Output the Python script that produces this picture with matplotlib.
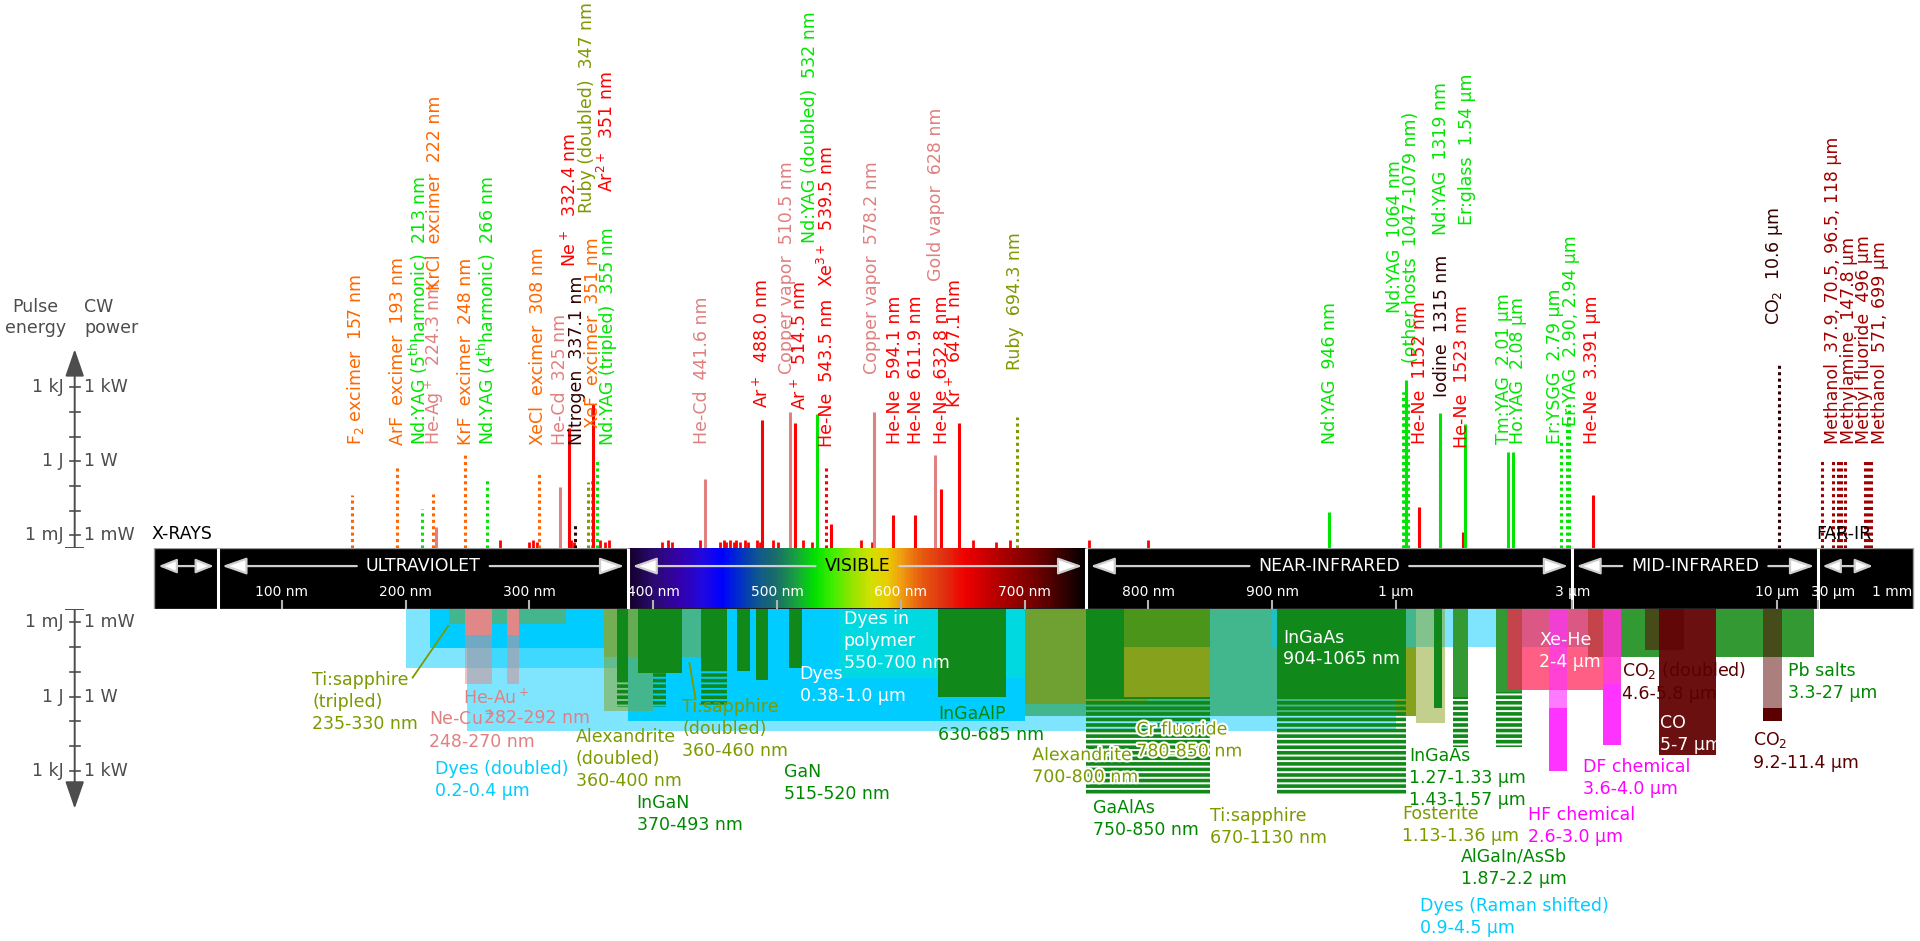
import numpy as np
import matplotlib
matplotlib.use("Agg")
import matplotlib.pyplot as plt
from matplotlib.colors import LinearSegmentedColormap
from matplotlib.lines import Line2D
from matplotlib.patches import FancyArrowPatch
from matplotlib import patheffects as pe

plt.rcParams['font.family'] = ['DejaVu Sans']
plt.rcParams['mathtext.fontset'] = 'dejavusans'
plt.rcParams['hatch.linewidth'] = 2.6

# ======================= DATA =======================
region_names = ["X-RAYS", "ULTRAVIOLET", "VISIBLE", "NEAR-INFRARED", "MID-INFRARED", "FAR-IR"]
region_edges_nm = [1, 10, 380, 750, 3000, 30000, 1e6]

tick_nm = [100, 200, 300, 400, 500, 600, 700, 800, 900, 1000, 3000, 10000, 30000, 1e6]
tick_labels = ["100 nm", "200 nm", "300 nm", "400 nm", "500 nm", "600 nm", "700 nm",
               "800 nm", "900 nm", "1 µm", "3 µm", "10 µm", "30 µm", "1 mm"]

spectrum_nm = [380, 400, 420, 440, 455, 470, 485, 500, 515, 530, 545, 560, 575, 588,
               600, 615, 635, 652, 680, 710, 735, 750]
spectrum_hex = ["#14002a", "#2a0a70", "#3500a8", "#2008e0", "#0000ff", "#0030c8", "#10588a",
                "#1a7068", "#18a040", "#00e000", "#40ee00", "#90e400", "#d0e000", "#e8d000",
                "#f0a010", "#e86010", "#e03010", "#f00000", "#b00000", "#700000", "#2c0000", "#000000"]

power_exp = [-3, 0, 3]
energy_labels = ["1 mJ", "1 J", "1 kJ"]
cw_labels = ["1 mW", "1 W", "1 kW"]

# ---- upper panel: laser lines (wavelength nm, log10 of power/energy in W/J) ----
line_nm = [157, 193, 213, 222, 224.3, 248, 266, 308, 325, 332.4, 337.1, 347, 351, 351.1, 355,
           441.6, 488.0, 510.5, 514.5, 532, 539.5, 543.5, 578.2, 594.1, 611.9, 628, 632.8, 647.1, 694.3,
           946, 1047, 1053, 1064, 1079, 1152, 1315, 1319, 1523, 1540, 2010, 2080, 2790, 2900, 2940, 3391,
           10600, 37900, 70500, 96500, 118000, 147800, 496000, 571000, 699000]
line_log_w = [-1.36, -0.17, -1.91, -1.31, -2.65, 0.32, -0.67, -0.52, -1.02, 1.36, -2.55, -0.82, -0.67, 2.30, 0.07,
              -0.72, 1.66, 2.0, 1.56, 1.91, -0.17, -2.55, 2.0, -2.16, -2.16, 0.27, -1.12, 1.56, 1.81,
              -2.06, 2.8, 2.8, 3.3, 2.5, -1.86, 0.57, 1.96, -2.85, 1.51, 0.37, 0.37, 0.92, 1.5, 2.3, -1.36,
              3.94, 0.02, 0.02, 0.02, 0.02, 0.02, 0.02, 0.02, 0.02]
line_pulsed = [1, 1, 1, 1, 0, 1, 1, 1, 0, 0, 1, 1, 1, 0, 1,
               0, 0, 0, 0, 0, 1, 0, 0, 0, 0, 0, 0, 0, 1,
               0, 1, 1, 0, 1, 0, 1, 0, 0, 0, 0, 0, 1, 1, 1, 0,
               1, 1, 1, 1, 1, 1, 1, 1, 1]
line_kind = ['exc', 'exc', 'ss', 'exc', 'metal', 'exc', 'ss', 'exc', 'metal', 'ion', 'n2', 'ruby', 'exc', 'ion', 'ss',
             'metal', 'ion', 'metal', 'ion', 'ss', 'ion', 'ion', 'metal', 'ion', 'ion', 'metal', 'ion', 'ion', 'ruby',
             'ss', 'ss', 'ss', 'ss', 'ss', 'ion', 'n2', 'ss', 'ion', 'ss', 'ss', 'ss', 'ss', 'ss', 'ss', 'ion',
             'n2', 'fir', 'fir', 'fir', 'fir', 'fir', 'fir', 'fir', 'fir']

# weak ion lines near the band
minor_nm = [276, 300, 303, 306, 334, 336, 357, 361, 364, 407, 412, 415, 438, 454, 457, 459, 462, 465,
            467, 470, 474, 477, 484, 486, 497, 501, 521, 528, 568, 577, 658, 677, 688, 752, 800]
minor_log_w = [-3.2, -3.25, -3.2, -3.25, -3.2, -3.25, -3.2, -3.25, -3.2, -3.25, -3.2, -3.25, -3.2, -3.25,
               -3.2, -3.25, -3.2, -3.25, -3.2, -3.25, -3.2, -3.25, -3.2, -3.25, -3.2, -3.25, -3.2, -3.25,
               -3.2, -3.25, -3.2, -3.25, -3.2, -3.2, -3.2]

label_text = [r"F$_2$ excimer  157 nm", "ArF  excimer  193 nm", r"Nd:YAG (5$^{\mathrm{th}}$harmonic)  213 nm",
              r"He-Ag$^+$  224.3 nm", "KrCl  excimer  222 nm", "KrF  excimer  248 nm",
              r"Nd:YAG (4$^{\mathrm{th}}$harmonic)  266 nm", "XeCl  excimer  308 nm", "He-Cd  325 nm",
              "Nitrogen  337.1 nm", r"Ne$^+$  332.4 nm", "XeF  excimer  351 nm", "Ruby (doubled)  347 nm",
              "Nd:YAG (tripled)  355 nm", r"Ar$^{2+}$  351 nm", "He-Cd  441.6 nm", r"Ar$^+$  488.0 nm",
              "Copper vapor  510.5 nm", r"Ar$^+$  514.5 nm", "Nd:YAG (doubled)  532 nm", r"Xe$^{3+}$  539.5 nm",
              "He-Ne  543.5 nm", "Copper vapor  578.2 nm", "He-Ne  594.1 nm", "He-Ne  611.9 nm",
              "Gold vapor  628 nm", "He-Ne  632.8 nm", r"Kr$^+$  647.1 nm", "Ruby  694.3 nm",
              "Nd:YAG  946 nm", "Nd:YAG  1064 nm\n(other hosts  1047-1079 nm)", "He-Ne  1152 nm",
              "Iodine  1315 nm", "Nd:YAG  1319 nm", "He-Ne  1523 nm", "Er:glass  1.54 µm",
              "Tm:YAG  2.01 µm", "Ho:YAG  2.08 µm", "Er:YSGG  2.79 µm", "Er:YAG  2.90, 2.94 µm",
              "He-Ne  3.391 µm", r"CO$_2$  10.6 µm", "Methanol  37.9, 70.5, 96.5, 118 µm",
              "Methylamine  147.8 µm", "Methyl fluoride  496 µm", "Methanol  571, 699 µm"]
label_kind = ['exc', 'exc', 'ss', 'metal', 'exc', 'exc', 'ss', 'exc', 'metal', 'n2', 'ion', 'exc', 'ruby',
              'ss', 'ion', 'metal', 'ion', 'metal', 'ion', 'ss', 'ion', 'ion', 'metal', 'ion', 'ion',
              'metal', 'ion', 'ion', 'ruby', 'ss', 'ss', 'ion', 'n2', 'ss', 'ion', 'ss', 'ss', 'ss', 'ss',
              'ss', 'ion', 'n2', 'fir', 'fir', 'fir', 'fir']

# ---- lower panel: tuning ranges (nm) and power extent (log10 W) ----
bar_lo = [670, 900, 250, 200, 220, 380, 550, 235, 248, 248, 282, 282, 360, 360,
          371, 371, 388, 400, 439, 439, 468, 483, 510, 630, 700, 750, 750, 780, 780, 904, 904,
          1130, 1270, 1430, 1430, 1870, 1870, 3300, 2000, 2600, 2600, 3600, 3600, 5000, 4600, 9200, 9200]
bar_hi = [1130, 4500, 1000, 400, 360, 700, 700, 330, 270, 270, 292, 292, 460, 400,
          380, 380, 423, 410, 460, 460, 478, 493, 520, 685, 800, 850, 850, 850, 850, 1065, 1065,
          1360, 1330, 1570, 1570, 2200, 2200, 27000, 4000, 2900, 2900, 4000, 4000, 7000, 5800, 11400, 11400]
bar_from = [None, None, None, None, None, None, None, None, None, -2.5, None, -2.5, None, None,
            None, -0.67, None, -0.94, None, -1.02, None, None, None, None, None, None, 0.02, None, -2.0, None, 0.02,
            None, None, None, 0.02, None, -0.17, None, None, None, 0.47, None, -0.5, None, None, None, 0.47]
bar_to = [0.77, -2.0, 1.41, -1.17, -1.96, 0.97, -0.77, -2.95, -2.5, -0.52, -2.5, -0.52, -1.6, 0.57,
          -0.67, 0.42, -0.94, 0.42, -1.02, 0.37, -1.02, -0.67, -1.17, 0.02, 0.32, 0.02, 3.94, -2.0, 0.02, 0.02, 3.94,
          1.07, 0.47, 0.02, 2.06, -0.17, 2.06, -1.61, -0.27, 0.47, 3.0, -0.5, 1.96, 2.35, -1.9, 0.47, 0.97]
bar_kind = ['olive', 'cyan', 'cyan', 'cyan', 'cyan', 'cyan', 'teal', 'olive', 'pink', 'pink', 'pink', 'pink', 'olive', 'olive',
            'green', 'green', 'green', 'green', 'green', 'green', 'green', 'green', 'green', 'green', 'olive2', 'green', 'green',
            'olive', 'olive', 'green', 'green', 'olive', 'green', 'green2', 'green', 'green2', 'green', 'green2', 'xehe',
            'magenta', 'magenta', 'magenta', 'magenta', 'co', 'dkred', 'dkred', 'dkred']
bar_fill = ['solid', 'check', 'check', 'check', 'solid', 'solid', 'check', 'check', 'solid', 'check', 'solid', 'check',
            'check', 'check', 'solid', 'stripe', 'solid', 'stripe', 'solid', 'stripe', 'solid', 'solid', 'solid', 'solid',
            'solid', 'solid', 'stripe', 'check', 'solid', 'solid', 'stripe', 'check', 'solid', 'solid', 'stripe', 'solid',
            'stripe', 'solid', 'check', 'check', 'solid', 'check', 'solid', 'solid', 'check', 'check', 'solid']

low_text = ["Ti:sapphire\n(tripled)\n235-330 nm", "He-Au$^+$", "282-292 nm", "Ne-Cu$^+$\n248-270 nm",
            "Dyes (doubled)\n0.2-0.4 µm", "Alexandrite\n(doubled)\n360-400 nm", "InGaN\n370-493 nm",
            "Ti:sapphire\n(doubled)\n360-460 nm", "GaN\n515-520 nm", "Dyes\n0.38-1.0 µm",
            "Dyes in\npolymer\n550-700 nm", "InGaAlP\n630-685 nm", "Alexandrite\n700-800 nm",
            "Cr fluoride\n780-850 nm", "GaAlAs\n750-850 nm", "Ti:sapphire\n670-1130 nm",
            "InGaAs\n904-1065 nm", "InGaAs\n1.27-1.33 µm\n1.43-1.57 µm", "Fosterite\n1.13-1.36 µm",
            "AlGaIn/AsSb\n1.87-2.2 µm", "Dyes (Raman shifted)\n0.9-4.5 µm", "Xe-He\n2-4 µm",
            "HF chemical\n2.6-3.0 µm", "DF chemical\n3.6-4.0 µm", "CO$_2$ (doubled)\n4.6-5.8 µm",
            "CO\n5-7 µm", "CO$_2$\n9.2-11.4 µm", "Pb salts\n3.3-27 µm"]
low_kind = ['olive', 'pink', 'pink', 'pink', 'cyan', 'olive', 'green', 'olive', 'green', 'white', 'white', 'green',
            'olive', 'olive', 'green', 'olive', 'white', 'green', 'olive', 'green', 'cyan', 'white',
            'magenta', 'magenta', 'dkred', 'white', 'dkred', 'green']

# ======================= STYLE / LAYOUT =======================
LINE_COL = {'exc': '#ff6600', 'ss': '#00e600', 'metal': '#e08080', 'ion': '#ff0000',
            'n2': '#330000', 'ruby': '#7f9900', 'fir': '#a00000'}
BAR_COL = {'cyan': '#00ccff', 'teal': '#00e6c3', 'olive': '#86a11c', 'olive2': '#6ea032',
           'green': '#11891a', 'green2': '#339933', 'pink': '#e08888', 'magenta': '#ff33ff',
           'xehe': '#ff2255', 'co': '#6b1010', 'dkred': '#5a0000'}
CHECK_ALPHA = {'xehe': 0.72, 'magenta': 0.65}
LOW_TXT_COL = {'olive': '#7a9a00', 'pink': '#e08080', 'cyan': '#00ccff', 'green': '#008800',
               'white': 'white', 'magenta': '#ff00ff', 'dkred': '#5a0000'}
AXC = '#4d4d4d'

# layout grid in reference pixels (image saved 1920x941)
W, H = 1568.0, 768.0
BAND_LEFT_PX, BAND_RIGHT_PX = 126.0, 1562.0
label_xy = [(290, 363), (325, 363), (341.6, 363), (355, 363), (355, 237), (380.6, 363), (397.5, 363),
            (439.6, 363), (457, 363), (471, 363), (465.5, 218), (484.5, 349), (479, 174), (496.7, 363),
            (495.4, 157), (573, 362), (622, 333), (642.4, 305), (653, 335), (661.5, 198), (675, 234),
            (675, 365), (712, 305), (731, 362), (748, 362), (764.5, 229), (769, 362), (780, 333), (829, 302),
            (1086, 362), (1146, 296), (1160, 362), (1177.5, 324), (1177, 192), (1194, 366), (1198, 184),
            (1228, 362), (1240, 362), (1270, 362), (1283, 348), (1300, 362), (1449, 265), (1497, 362),
            (1510, 362), (1522, 362), (1535, 362)]
low_xy = [(255, 548), (378, 562), (395, 579), (350, 579), (355, 620), (470, 594), (520, 648), (557, 570),
          (640, 623), (653, 543), (689, 498), (766, 575), (843, 609), (928, 588), (893, 652), (988, 659),
          (1048, 513), (1151, 610), (1145, 657), (1193, 692), (1160, 732), (1257, 515), (1248, 658),
          (1293, 619), (1325, 539), (1356, 583), (1432, 596), (1460, 540)]
low_outline = {12, 13}

BAND_TOP, BAND_BOT = 447.0, 497.0
DEC = 20.17           # px per decade of power
UP_MW, LO_MW = 437.0, 508.0


def fx(x):
    return x / W


def fy(y):
    return 1.0 - y / H


def up_log(y):
    return -3 + (UP_MW - y) / DEC


def lo_log(y):
    return -3 + (y - LO_MW) / DEC


# ---- piecewise wavelength scale (linear 100-1000 nm, log elsewhere) ----
A_PX, B_PX = 129.0, 1.011
P100 = A_PX + 100 * B_PX
P1000 = A_PX + 1000 * B_PX
UV_DEC = 52.0
IR_LOGW = np.array([3.0, np.log10(3000.0), 4.0, np.log10(30000.0), 6.0, 8.0])
IR_PX = np.array([P1000, 1284.0, 1451.0, 1485.0, 1533.0, 1596.0])


def fwd(w):
    w = np.asarray(w, dtype=float)
    with np.errstate(all='ignore'):
        lw = np.log10(np.clip(w, 1e-12, None))
        uv = P100 + UV_DEC * (lw - 2.0)
        lin = A_PX + B_PX * w
        ir = np.interp(lw, IR_LOGW, IR_PX)
    return np.where(w < 100, uv, np.where(w <= 1000, lin, ir))


def inv(p):
    p = np.asarray(p, dtype=float)
    with np.errstate(all='ignore'):
        uv = 100.0 * 10 ** ((np.clip(p, -2000, 3000) - P100) / UV_DEC)
        lin = (p - A_PX) / B_PX
        ir = 10 ** np.interp(p, IR_PX, IR_LOGW)
    return np.where(p < P100, uv, np.where(p <= P1000, lin, ir))


fig = plt.figure(figsize=(19.2, 9.41), dpi=100)

ax_up = fig.add_axes([0, fy(BAND_TOP), 1, 1 - fy(BAND_TOP)])
ax_band = fig.add_axes([0, fy(BAND_BOT), 1, (BAND_BOT - BAND_TOP) / H])
ax_low = fig.add_axes([0, 0, 1, fy(BAND_BOT)])
for ax in (ax_up, ax_band, ax_low):
    ax.set_xscale('function', functions=(fwd, inv))
    ax.set_xlim(float(inv(0.0)), float(inv(W)))
    ax.axis('off')
ax_up.set_yscale('log')
ax_up.set_ylim(10 ** up_log(BAND_TOP), 10 ** up_log(0))
ax_low.set_yscale('log')
ax_low.set_ylim(10 ** lo_log(H), 10 ** lo_log(BAND_BOT))
ax_band.set_ylim(0, 1)

BASE_UP = 10 ** up_log(BAND_TOP)
BASE_LO = 10 ** lo_log(BAND_BOT)

# ---------------- band ----------------
band_l = float(inv(BAND_LEFT_PX))
band_r = float(inv(BAND_RIGHT_PX))
ax_band.bar(band_l, 1, width=band_r - band_l, bottom=0,
            align='edge', color='black', edgecolor='#9a9a9a', linewidth=1.0, zorder=1)
cmap = LinearSegmentedColormap.from_list(
    'vis', [((n - spectrum_nm[0]) / (spectrum_nm[-1] - spectrum_nm[0]), c) for n, c in zip(spectrum_nm, spectrum_hex)])
xe = np.linspace(spectrum_nm[0], spectrum_nm[-1], 371)
xc = 0.5 * (xe[1:] + xe[:-1])
ax_band.pcolormesh(xe, [0.01, 0.99], ((xc - xe[0]) / (xe[-1] - xe[0]))[None, :], cmap=cmap,
                   vmin=0, vmax=1, shading='flat', zorder=2)
ax_band.vlines(region_edges_nm[1:-1], 0, 1, colors='white', lw=2.2, zorder=4)
ax_band.vlines(tick_nm[:-1], 0, 0.14, colors='#b3b3b3', lw=1.5, zorder=4)
tick_dx = {30000: 12, 1e6: 12}
for t, lab in zip(tick_nm, tick_labels):
    xp = float(fwd(t)) + tick_dx.get(t, 0)
    ax_band.text(float(inv(xp)), 0.28, lab, color='white', fontsize=10, ha='center', va='center', zorder=5)

region_txt = {}
for i, name in enumerate(region_names):
    lo, hi = region_edges_nm[i], region_edges_nm[i + 1]
    if name in ("X-RAYS", "FAR-IR"):
        ax_up.text(float(inv(float(fwd(lo)) - 2)), 10 ** up_log(436), name, color='black',
                   fontsize=12.5, ha='left', va='center')
        continue
    cpx = 0.5 * (float(fwd(lo)) + float(fwd(hi)))
    region_txt[name] = ax_band.text(float(inv(cpx)), 0.70, name, fontsize=12.5, ha='center', va='center',
                                    color='black' if name == "VISIBLE" else 'white', zorder=6)

fig.canvas.draw()
renderer = fig.canvas.get_renderer()
arrow_kw = dict(lw=1.6, ec='#cfcfcf', fc='white', zorder=6, transform=ax_band.transData)
for i, name in enumerate(region_names):
    lo, hi = region_edges_nm[i], region_edges_nm[i + 1]
    if name in region_txt:
        bb = region_txt[name].get_window_extent(renderer)
        inv_t = ax_band.transData.inverted()
        xl = inv_t.transform((bb.x0 - 9, 0))[0]
        xr = inv_t.transform((bb.x1 + 9, 0))[0]
        for a, b in ((xl, lo), (xr, hi)):
            ax_band.add_patch(FancyArrowPatch((a, 0.70), (b, 0.70),
                                              arrowstyle='-|>,head_length=1.0,head_width=0.35',
                                              mutation_scale=15, shrinkA=0, shrinkB=3, **arrow_kw))
    else:
        ax_band.add_patch(FancyArrowPatch((lo, 0.70), (hi, 0.70),
                                          arrowstyle='<|-|>,head_length=1.0,head_width=0.4',
                                          mutation_scale=11, shrinkA=3, shrinkB=3, **arrow_kw))

# ---------------- upper panel: lines ----------------
for nm, lw_ in zip(minor_nm, minor_log_w):
    ax_up.vlines(nm, BASE_UP, 10 ** lw_, colors=LINE_COL['ion'], lw=2.0)
for nm, lw_, pul, k in zip(line_nm, line_log_w, line_pulsed, line_kind):
    ax_up.vlines(nm, BASE_UP, 10 ** lw_, colors=LINE_COL[k], lw=2.2,
                 linestyles=(0, (1, 1.1)) if pul else 'solid')

for txt, k, (x, y) in zip(label_text, label_kind, label_xy):
    fig.text(fx(x), fy(y), txt, rotation=90, ha='center', va='bottom', color=LINE_COL[k],
             fontsize=12.5, linespacing=0.85)

# ---------------- lower panel: bars ----------------
for lo, hi, f, t, k, fill in zip(bar_lo, bar_hi, bar_from, bar_to, bar_kind, bar_fill):
    b0 = BASE_LO if f is None else 10 ** f
    b1 = 10 ** t
    col = BAR_COL[k]
    if fill == 'solid':
        ax_low.bar(lo, b1 - b0, width=hi - lo, bottom=b0, align='edge', color=col, lw=0)
    elif fill == 'check':
        ax_low.bar(lo, b1 - b0, width=hi - lo, bottom=b0, align='edge', color=col,
                   alpha=CHECK_ALPHA.get(k, 0.5), lw=0)
    else:
        ax_low.bar(lo, b1 - b0, width=hi - lo, bottom=b0, align='edge', facecolor='none',
                   edgecolor=col, hatch='---', lw=0)

for i, (txt, k, (x, y)) in enumerate(zip(low_text, low_kind, low_xy)):
    t = fig.text(fx(x), fy(y), txt, ha='left', va='top', color=LOW_TXT_COL[k], fontsize=12.5,
                 linespacing=1.28)
    if i in low_outline:
        t.set_path_effects([pe.withStroke(linewidth=3, foreground='white')])

for (x0, y0, x1, y1) in [(337, 553, 366, 511), (563, 541, 568, 570)]:
    fig.add_artist(Line2D([fx(x0), fx(x1)], [fy(y0), fy(y1)], color='#7a9a00', lw=1.3))

# ---------------- left power axes ----------------
ax_lu = fig.add_axes([0, fy(BAND_TOP), fx(128), 1 - fy(BAND_TOP)])
ax_lu.set_xlim(0, 128)
ax_lu.set_yscale('log')
ax_lu.set_ylim(ax_up.get_ylim())
ax_lu.axis('off')
ax_ll = fig.add_axes([0, 0, fx(128), fy(BAND_BOT)])
ax_ll.set_xlim(0, 128)
ax_ll.set_yscale('log')
ax_ll.set_ylim(ax_low.get_ylim())
ax_ll.axis('off')

for axl, base, tip in ((ax_lu, BASE_UP, 10 ** up_log(285)), (ax_ll, BASE_LO, 10 ** lo_log(660))):
    axl.add_patch(FancyArrowPatch((61, base), (61, tip), arrowstyle='-|>,head_length=1.3,head_width=0.45',
                                  mutation_scale=13, lw=1.4, color=AXC, shrinkA=0, shrinkB=0))
    axl.plot([54, 68], [base, base], color=AXC, lw=1.4)
    for e in range(-3, 4):
        axl.plot([57, 65], [10.0 ** e, 10.0 ** e], color=AXC, lw=1.2)
    for e, le, lc in zip(power_exp, energy_labels, cw_labels):
        axl.text(52, 10.0 ** e, le, ha='right', va='center', color=AXC, fontsize=12.5)
        axl.text(69, 10.0 ** e, lc, ha='left', va='center', color=AXC, fontsize=12.5)

fig.text(fx(29), fy(259), "Pulse\nenergy", ha='center', va='center', multialignment='center',
         color=AXC, fontsize=12.5, linespacing=1.2)
fig.text(fx(69), fy(259), "CW\npower", ha='left', va='center', color=AXC, fontsize=12.5, linespacing=1.2)

fig.savefig("out.png", dpi=100, facecolor='white')
